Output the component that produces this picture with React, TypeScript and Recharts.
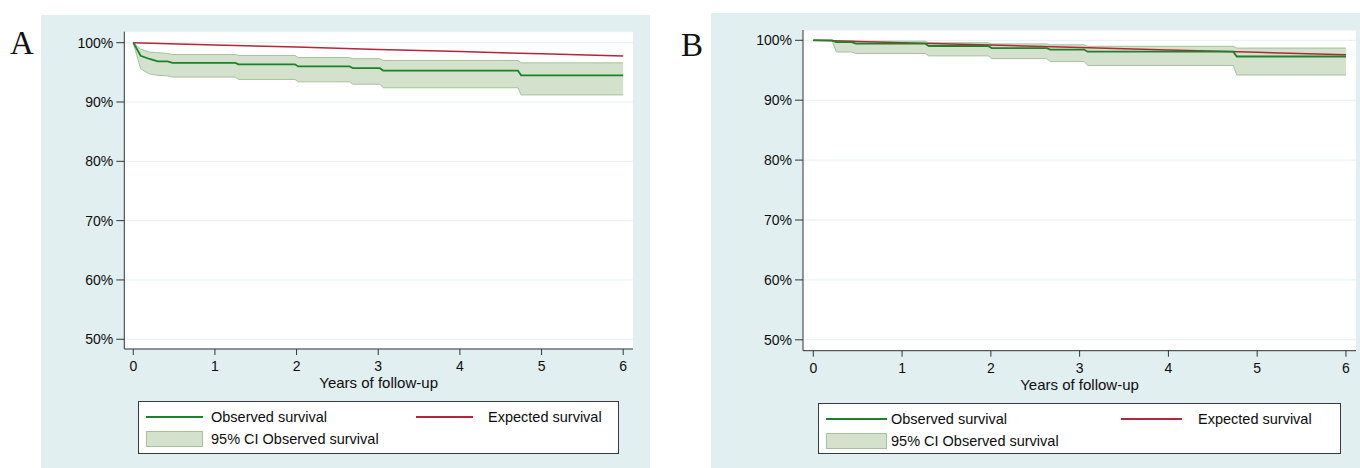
import { ComposedChart, Line, Area, XAxis, YAxis, CartesianGrid } from "recharts"

// shared axis ticks
const yearTicks = [0, 1, 2, 3, 4, 5, 6]
const pctTicks = [50, 60, 70, 80, 90, 100]

// panel A: Kaplan-Meier corners (early drop is dense, so it reads as a curve)
const stepTimeA = [0, 0.09, 0.2, 0.3, 0.42, 0.48, 1.25, 1.29, 1.98, 2.02, 2.65, 2.69, 3.02, 3.06, 4.71, 4.75, 6]
const observedA = [100, 97.8, 97.25, 96.85, 96.85, 96.6, 96.6, 96.35, 96.35, 96.0, 96.0, 95.7, 95.7, 95.3, 95.3, 94.5, 94.5]
const lowerA = [100, 95.6, 94.7, 94.5, 94.4, 94.2, 94.2, 93.8, 93.8, 93.4, 93.4, 93.0, 93.0, 92.4, 92.4, 91.2, 91.2]
const upperA = [100, 98.9, 98.4, 98.3, 98.2, 98.0, 98.0, 97.85, 97.85, 97.5, 97.5, 97.3, 97.3, 97.0, 97.0, 96.6, 96.6]
const expTimeA = [0, 1, 2, 3, 4, 5, 6]
const expectedA = [100, 99.62, 99.25, 98.87, 98.5, 98.12, 97.75]

// panel B
const stepTimeB = [0, 0.21, 0.26, 0.43, 0.48, 1.26, 1.3, 1.97, 2.01, 2.63, 2.67, 3.05, 3.09, 4.73, 4.77, 6]
const observedB = [100, 100, 99.7, 99.7, 99.45, 99.45, 99.05, 99.05, 98.7, 98.7, 98.45, 98.45, 98.1, 98.1, 97.3, 97.3]
const lowerB = [100, 100, 98.05, 98.05, 97.8, 97.8, 97.4, 97.4, 96.95, 96.95, 96.45, 96.45, 95.8, 95.8, 94.2, 94.2]
const upperB = [100, 100, 99.95, 99.95, 99.85, 99.85, 99.6, 99.6, 99.4, 99.4, 99.25, 99.25, 99.0, 99.0, 98.7, 98.7]
const expTimeB = [0, 1, 2, 3, 4, 5, 6]
const expectedB = [100, 99.6, 99.2, 98.8, 98.4, 98.0, 97.6]

const FONT = "'Liberation Sans', Arial, Helvetica, sans-serif"
const INK = "#0d0d0d"
const GREEN = "#1a8228"
const RED = "#b5263a"
const CI_FILL = "#d3e1cd"
const CI_LINE = "#a6c29b"
const PANEL_BG = "#e2eff1"

interface PanelProps {
  left: number
  width: number
  margin: { top: number; right: number; bottom: number; left: number }
  yWidth: number
  xDomain: [number, number]
  yDomain: [number, number]
  times: number[]
  obs: number[]
  low: number[]
  high: number[]
  expTimes: number[]
  exp: number[]
}

function SurvivalPanel(p: PanelProps) {
  const km = p.times.map((t, i) => ({ t, obs: p.obs[i], ci: [p.low[i], p.high[i]] }))
  const ex = p.expTimes.map((t, i) => ({ t, exp: p.exp[i] }))
  const tick = { fill: INK, fontSize: 14, fontFamily: FONT }
  return (
    <div style={{ position: "absolute", left: p.left, top: 0 }}>
      <ComposedChart width={p.width} height={468} margin={p.margin}>
        <CartesianGrid horizontal vertical={false} fill="#ffffff" stroke="#e4f0f2" strokeWidth={1} />
        <XAxis
          type="number"
          dataKey="t"
          domain={p.xDomain}
          ticks={yearTicks}
          allowDataOverflow
          height={39}
          tick={tick}
          tickSize={6}
          tickMargin={6}
          stroke="#333"
          label={{ value: "Years of follow-up", position: "insideBottom", offset: 0, fill: INK, fontSize: 15, fontFamily: FONT }}
        />
        <YAxis
          type="number"
          domain={p.yDomain}
          ticks={pctTicks}
          allowDataOverflow
          width={p.yWidth}
          tick={tick}
          tickSize={8}
          tickMargin={3}
          stroke="#333"
          tickFormatter={(v) => `${v}%`}
        />
        <Area
          data={km}
          dataKey="ci"
          type="linear"
          fill={CI_FILL}
          fillOpacity={1}
          stroke={CI_LINE}
          strokeWidth={1}
          isAnimationActive={false}
        />
        <Line data={ex} dataKey="exp" type="linear" stroke={RED} strokeWidth={1.5} dot={false} isAnimationActive={false} />
        <Line data={km} dataKey="obs" type="linear" stroke={GREEN} strokeWidth={1.8} dot={false} isAnimationActive={false} />
      </ComposedChart>
    </div>
  )
}

interface LegendProps {
  left: number
  top: number
  width: number
  height: number
  swatchW: number
  redX: number
  textX2: number
}

function StataLegend({ left, top, width, height, swatchW, redX, textX2 }: LegendProps) {
  const txt = { position: "absolute" as const, fontSize: 14.5, fontFamily: FONT, color: INK, lineHeight: "16px", whiteSpace: "nowrap" as const }
  return (
    <div style={{ position: "absolute", left, top, width, height, boxSizing: "border-box", border: "1px solid #3a3a3a", background: "#fff" }}>
      <div style={{ position: "absolute", left: 7, top: 14, width: swatchW, height: 2, background: GREEN }} />
      <div style={{ ...txt, left: 72, top: 7 }}>Observed survival</div>
      <div style={{ position: "absolute", left: redX, top: 14, width: swatchW, height: 1.5, background: RED }} />
      <div style={{ ...txt, left: textX2, top: 7 }}>Expected survival</div>
      <div style={{ position: "absolute", left: 7, top: 29, width: swatchW, height: 16, boxSizing: "border-box", background: CI_FILL, border: `1px solid ${CI_LINE}` }} />
      <div style={{ ...txt, left: 72, top: 29 }}>95% CI Observed survival</div>
    </div>
  )
}

export default function App() {
  const letter = { position: "absolute" as const, fontFamily: "'Liberation Serif', 'Times New Roman', serif", fontSize: 33, lineHeight: "33px", color: "#111" }
  return (
    <div style={{ position: "absolute", left: 0, top: 0, width: 1360, height: 468, background: "#fff", overflow: "hidden" }}>
      <div style={{ position: "absolute", left: 41, top: 15, width: 609, height: 453, background: PANEL_BG }} />
      <div style={{ position: "absolute", left: 711, top: 13, width: 649, height: 455, background: PANEL_BG }} />
      <div style={{ ...letter, left: 10, top: 27 }}>A</div>
      <div style={{ ...letter, left: 681, top: 29 }}>B</div>
      <SurvivalPanel
        left={0}
        width={660}
        margin={{ top: 31.7, right: 27, bottom: 80, left: 0 }}
        yWidth={124.3}
        xDomain={[-0.11, 6.12]}
        yDomain={[48.36, 101.85]}
        times={stepTimeA}
        obs={observedA}
        low={lowerA}
        high={upperA}
        expTimes={expTimeA}
        exp={expectedA}
      />
      <SurvivalPanel
        left={680}
        width={680}
        margin={{ top: 30, right: 4, bottom: 78.3, left: 0 }}
        yWidth={123}
        xDomain={[-0.116, 6.113]}
        yDomain={[48.18, 101.72]}
        times={stepTimeB}
        obs={observedB}
        low={lowerB}
        high={upperB}
        expTimes={expTimeB}
        exp={expectedB}
      />
      <StataLegend left={138} top={401} width={481} height={53} swatchW={57} redX={277} textX2={349} />
      <StataLegend left={818} top={403} width={523} height={51} swatchW={61} redX={302} textX2={379} />
    </div>
  )
}
